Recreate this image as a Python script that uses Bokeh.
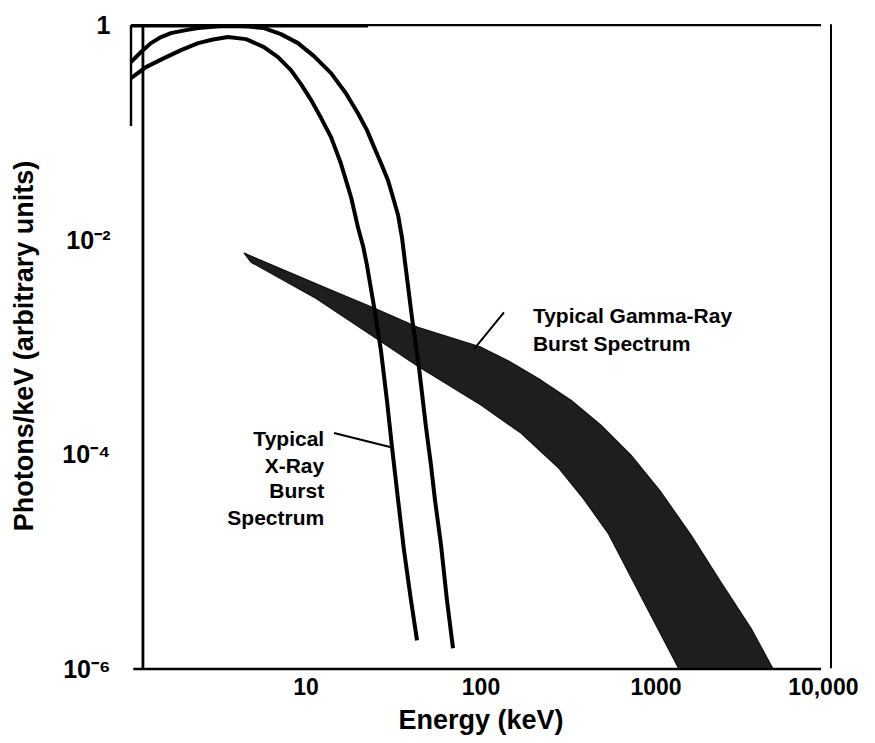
from bokeh.plotting import figure
from bokeh.models import ColumnDataSource, FixedTicker, CustomJSTickFormatter
from bokeh.core.properties import value
from bokeh.embed import file_html
from bokeh.resources import INLINE

# ---- data (Energy keV, Photons/keV arbitrary units) ----
xray_outer_E = [1.0, 1.14, 1.30, 1.484, 1.69, 2.062, 2.42, 3.06, 3.72, 4.66, 5.75,
                7.19, 9.0, 11.1, 13.9, 16.9, 19.8, 22.3, 24.5, 26.8, 29.4, 31.4,
                33.6, 35.4, 36.8, 40.3, 44.2, 48.5, 51.8, 54.6, 59.1, 63.9, 69.2]
xray_outer_F = [0.452, 0.561, 0.679, 0.773, 0.841, 0.898, 0.938, 0.968, 0.979,
                0.968, 0.938, 0.824, 0.679, 0.514, 0.357, 0.232, 0.151, 0.105,
                0.0729, 0.0518, 0.0359, 0.0249, 0.0169, 0.01035, 0.00618, 0.00190,
                0.000650, 0.000179, 7.93e-5, 3.74e-5, 1.43e-5, 4.38e-6, 1.56e-6]

xray_inner_E = [1.0, 1.218, 1.545, 1.931, 2.42, 2.94, 3.58, 4.54, 5.75, 6.92, 8.20,
                9.36, 10.7, 12.2, 13.9, 15.8, 18.1, 19.8, 21.2, 22.3, 24.5, 26.8,
                29.0, 31.0, 33.6, 36.3, 39.8, 43.1]
xray_inner_F = [0.321, 0.406, 0.492, 0.585, 0.679, 0.733, 0.773, 0.740, 0.624,
                0.503, 0.381, 0.282, 0.200, 0.136, 0.0904, 0.0518, 0.0249, 0.0131,
                0.00871, 0.00579, 0.00236, 9.35e-4, 3.20e-4, 1.17e-4, 3.74e-5,
                1.28e-5, 4.38e-6, 1.85e-6]

grb_upper_E = [4.43, 13.9, 24.5, 43.6, 100, 148, 220, 327, 485, 720, 1069,
               1585, 2352, 3491, 4667]
grb_upper_F = [7.50e-3, 3.39e-3, 2.31e-3, 1.53e-3, 9.98e-4, 7.23e-4, 4.92e-4,
               3.20e-4, 1.87e-4, 9.84e-5, 4.44e-5, 1.77e-5, 6.44e-6, 2.40e-6, 1.0e-6]
grb_lower_E = [4.85, 11.1, 24.5, 43.6, 100, 169, 275, 383, 532, 843, 1352]
grb_lower_F = [6.18e-3, 2.92e-3, 1.24e-3, 6.64e-4, 2.88e-4, 1.58e-4, 7.60e-5,
               3.91e-5, 1.85e-5, 4.38e-6, 1.0e-6]

x_ticks = [10, 100, 1000, 10000]
x_tick_labels = ["10", "100", "1000", "10,000"]
y_ticks = [1e-6, 1e-4, 1e-2, 1]
y_tick_labels = ["10\u207b\u2076", "10\u207b\u2074", "10\u207b\u00b2", "1"]

# frame strokes as drawn in the original figure
frame_xs = [[1.0, 8770], [10000, 10000], [1.03, 8770], [1.17, 1.17], [1.0, 1.0], [1.0, 22.6]]
frame_ys = [[1.0, 1.0], [1.02, 1.02e-6], [1e-6, 1e-6], [1.0, 1e-6], [1.0, 0.115], [0.97, 0.97]]
frame_w = [2.4, 2.0, 2.6, 2.8, 2.4, 2.2]

xray_label_lines = ["Typical", "X-Ray", "Burst", "Spectrum"]
xray_label_E = [12.7, 12.7, 12.7, 12.7]
xray_label_F = [1.42e-4, 7.9e-5, 4.6e-5, 2.6e-5]
grb_label_lines = ["Typical Gamma-Ray", "Burst Spectrum"]
grb_label_E = [198, 198]
grb_label_F = [1.95e-3, 1.09e-3]

leader_x0 = [14.45, 135.3]
leader_y0 = [1.58e-4, 2.11e-3]
leader_x1 = [30.2, 91.2]
leader_y1 = [1.17e-4, 9.55e-4]

FONT = "Liberation Sans"

p = figure(x_axis_type="log", y_axis_type="log",
           x_range=(10 ** -0.1, 10 ** 4.1), y_range=(10 ** -6.06, 10 ** 0.08),
           frame_width=735, frame_height=659,
           min_border_left=113, min_border_right=10, min_border_top=16, min_border_bottom=0,
           output_backend="svg", toolbar_location=None)

p.outline_line_color = None
p.grid.visible = False
p.background_fill_color = "white"
p.border_fill_color = "white"

# gamma-ray band
band_E = grb_upper_E + grb_lower_E[::-1]
band_F = grb_upper_F + grb_lower_F[::-1]
p.patch(band_E, band_F, fill_color="#1e1e1e", line_color="#111111", line_width=1.2,
        line_join="round")

# x-ray curves
p.line(xray_outer_E, xray_outer_F, line_color="black", line_width=4, line_join="round")
p.line(xray_inner_E, xray_inner_F, line_color="black", line_width=4, line_join="round")

# frame strokes
p.multi_line(xs=frame_xs, ys=frame_ys, line_color="black", line_width=frame_w)

# leader lines
p.segment(x0=leader_x0, y0=leader_y0, x1=leader_x1, y1=leader_y1,
          line_color="black", line_width=2)

# annotations
xsrc = ColumnDataSource(dict(x=xray_label_E, y=xray_label_F, t=xray_label_lines))
p.text(x="x", y="y", text="t", source=xsrc, text_align="right", text_baseline="alphabetic",
       text_font=value(FONT), text_font_style="bold", text_font_size="21px", text_color="black")
gsrc = ColumnDataSource(dict(x=grb_label_E, y=grb_label_F, t=grb_label_lines))
p.text(x="x", y="y", text="t", source=gsrc, text_align="left", text_baseline="alphabetic",
       text_font=value(FONT), text_font_style="bold", text_font_size="21px", text_color="black")

# axes
fmt_code = """
let best = -1;
for (let i = 0; i < tv.length; i++) {
  if (Math.abs(Math.log10(tv[i]) - Math.log10(tick)) < 1e-6) { best = i; }
}
return best >= 0 ? lb[best] : "";
"""
p.xaxis.ticker = FixedTicker(ticks=x_ticks, minor_ticks=[])
p.xaxis.formatter = CustomJSTickFormatter(args=dict(tv=x_ticks, lb=x_tick_labels), code=fmt_code)
p.yaxis.ticker = FixedTicker(ticks=y_ticks, minor_ticks=[])
p.yaxis.formatter = CustomJSTickFormatter(args=dict(tv=y_ticks, lb=y_tick_labels), code=fmt_code)

for ax in (p.xaxis, p.yaxis):
    ax.axis_line_color = None
    ax.major_tick_line_color = None
    ax.minor_tick_line_color = None
    ax.major_tick_out = 0
    ax.major_tick_in = 0
    ax.major_label_text_font = FONT
    ax.major_label_text_font_style = "bold"
    ax.major_label_text_font_size = "23px"
    ax.major_label_text_color = "black"
    ax.axis_label_text_font = FONT
    ax.axis_label_text_font_style = "bold"
    ax.axis_label_text_font_size = "27px"
    ax.axis_label_text_color = "black"

p.yaxis.major_label_text_font_size = "25px"
p.xaxis.axis_label = "Energy (keV)"
p.yaxis.axis_label = "Photons/keV (arbitrary units)"
p.xaxis.major_label_standoff = 2
p.xaxis.axis_label_standoff = 7
p.yaxis.major_label_standoff = 3
p.yaxis.axis_label_standoff = 20

open("out.html", "w").write(file_html(p, INLINE))
